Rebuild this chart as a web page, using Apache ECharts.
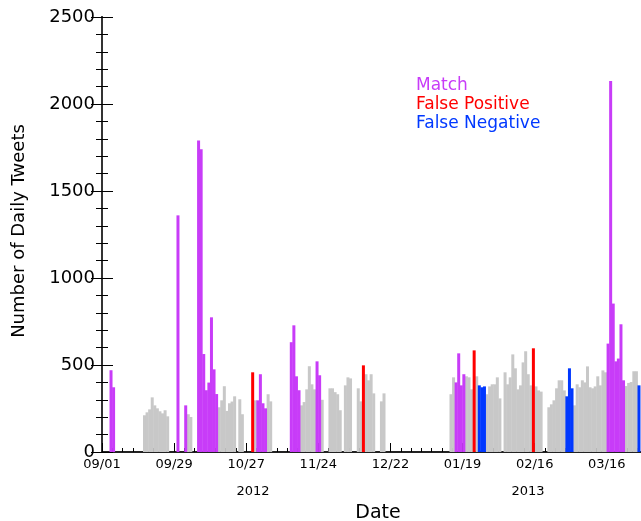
<!DOCTYPE html>
<html><head><meta charset="utf-8">
<script src="https://cdn.jsdelivr.net/npm/echarts@6/dist/echarts.min.js"></script>
<style>html,body{margin:0;padding:0;background:#fff}#c{width:641px;height:521px}</style>
</head><body><div id="c"></div>
<script>
// Day index 0 = 2012-09-01
const startYear = 2012, startMonth = 8, startDay = 1;
const axisMaxDay = 212;
const yTicks = [0, 500, 1000, 1500, 2000, 2500];
const yearLabels = ['2012', '2013'];
const legendNames = ['Match', 'False Positive', 'False Negative'];

const matchDays   = [3,4,29,32,37,38,39,40,41,42,43,44,60,61,62,63,73,74,75,76,83,84,137,138,139,140,196,197,198,199,200,201,202];
const matchValues = [470,372,1360,268,1790,1740,563,355,399,774,475,333,297,447,280,251,631,728,435,355,521,441,400,567,383,447,623,2132,853,521,537,734,412];

const fpDays   = [58,101,144,167];
const fpValues = [458,498,584,596];

const fnDays   = [146,147,148,180,181,182,208];
const fnValues = [383,372,377,320,481,366,383];

const otherDays = [16,17,18,19,20,21,22,23,24,25,33,34,45,46,47,48,49,50,51,53,54,59,64,65,
  77,78,79,80,81,82,85,88,89,90,91,92,94,95,96,99,100,102,103,104,105,108,109,
  135,136,141,142,143,145,149,150,151,152,153,154,156,157,158,159,160,161,162,163,164,165,166,
  168,169,170,173,174,175,176,177,178,179,183,184,185,186,187,188,189,190,191,192,193,194,195,
  203,204,205,206,207];
const otherValues = [211,228,245,314,268,251,234,222,240,205,217,201,257,297,378,236,280,290,320,303,217,297,332,291,
  268,287,360,493,389,360,300,366,366,344,332,240,383,429,423,366,291,447,412,447,337,291,337,
  332,429,435,429,360,435,332,377,389,389,429,308,458,389,429,561,481,360,383,515,579,447,383,
  377,354,347,257,274,297,366,412,412,354,268,389,372,412,400,492,372,366,377,435,383,469,458,
  379,397,402,464,464];

const colors = { match: '#c83cf8', fp: '#ff0000', fn: '#0038ff', other: '#c8c8c8' };
const FONT = "'DejaVu Sans ExtraLight', 'DejaVu Sans'";

function pairs(days, vals) { return days.map((d, i) => [d + 0.5, vals[i]]); }
function fmtDate(v) {
  if (v % 28 !== 0) return '';
  const dt = new Date(startYear, startMonth, startDay + v);
  const mm = String(dt.getMonth() + 1).padStart(2, '0');
  const dd = String(dt.getDate()).padStart(2, '0');
  return mm + '/' + dd;
}
function barSeries(name, data, color, z) {
  return { name, type: 'bar', data, xAxisIndex: 0, yAxisIndex: 0, barWidth: 3, barGap: '-100%',
    itemStyle: { color }, z, silent: true };
}

const chart = echarts.init(document.getElementById('c'), null, { renderer: 'canvas' });
chart.setOption({
  animation: false,
  backgroundColor: '#fff',
  grid: { left: 102, right: -7, top: 17, bottom: 69, containLabel: false, outerBoundsMode: 'none' },
  xAxis: [
    { type: 'value', min: 0, max: axisMaxDay, interval: 28, position: 'bottom',
      axisLine: { show: true, lineStyle: { color: '#222', width: 2 } },
      axisTick: { show: true, inside: true, length: 9, lineStyle: { color: '#000', width: 1 } },
      axisLabel: { show: true, formatter: fmtDate, margin: 6, fontFamily: FONT, fontSize: 13, color: '#000', hideOverlap: false },
      splitLine: { show: false } },
    { type: 'value', min: 0, max: axisMaxDay, interval: 4, position: 'bottom',
      axisLine: { show: false },
      axisTick: { show: true, inside: true, length: 4, lineStyle: { color: '#000', width: 1 } },
      axisLabel: { show: false }, splitLine: { show: false } }
  ],
  yAxis: [
    { type: 'value', min: yTicks[0], max: yTicks[yTicks.length - 1], interval: 500, position: 'left',
      axisLine: { show: true, lineStyle: { color: '#333', width: 2 } },
      axisTick: { show: true, inside: true, length: 11, lineStyle: { color: '#000', width: 1 } },
      minorTick: { show: true, splitNumber: 5, length: 6, lineStyle: { color: '#000', width: 1 } },
      axisLabel: { show: true, margin: 7, fontFamily: FONT, fontSize: 18, color: '#000', formatter: v => String(v) },
      splitLine: { show: false } },
    { type: 'value', min: yTicks[0], max: yTicks[yTicks.length - 1], interval: 500, position: 'right',
      axisLine: { show: true, lineStyle: { color: '#333', width: 2 } },
      axisTick: { show: true, inside: true, length: 11, lineStyle: { color: '#000', width: 1 } },
      minorTick: { show: true, splitNumber: 5, length: 6, lineStyle: { color: '#000', width: 1 } },
      axisLabel: { show: false }, splitLine: { show: false } }
  ],
  series: [
    barSeries('Other', pairs(otherDays, otherValues), colors.other, 2),
    barSeries(legendNames[0], pairs(matchDays, matchValues), colors.match, 3),
    barSeries(legendNames[1], pairs(fpDays, fpValues), colors.fp, 3),
    barSeries(legendNames[2], pairs(fnDays, fnValues), colors.fn, 3)
  ],
  graphic: [
    { type: 'text', x: 19, y: 231, rotation: Math.PI / 2,
      style: { text: 'Number of Daily Tweets', fontFamily: FONT, fontSize: 18, fill: '#000', align: 'center', verticalAlign: 'middle' } },
    { type: 'text', x: 378, y: 513,
      style: { text: 'Date', fontFamily: FONT, fontSize: 19, fill: '#000', align: 'center', verticalAlign: 'middle' } },
    { type: 'text', x: 253, y: 492,
      style: { text: yearLabels[0], fontFamily: FONT, fontSize: 13, fill: '#000', align: 'center', verticalAlign: 'middle' } },
    { type: 'text', x: 528, y: 492,
      style: { text: yearLabels[1], fontFamily: FONT, fontSize: 13, fill: '#000', align: 'center', verticalAlign: 'middle' } },
    { type: 'text', x: 416, y: 86,
      style: { text: legendNames[0], fontFamily: FONT, fontSize: 17, fill: colors.match, align: 'left', verticalAlign: 'middle' } },
    { type: 'text', x: 416, y: 105,
      style: { text: legendNames[1], fontFamily: FONT, fontSize: 17, fill: colors.fp, align: 'left', verticalAlign: 'middle' } },
    { type: 'text', x: 416, y: 124,
      style: { text: legendNames[2], fontFamily: FONT, fontSize: 17, fill: colors.fn, align: 'left', verticalAlign: 'middle' } }
  ]
});
</script>
</body></html>
